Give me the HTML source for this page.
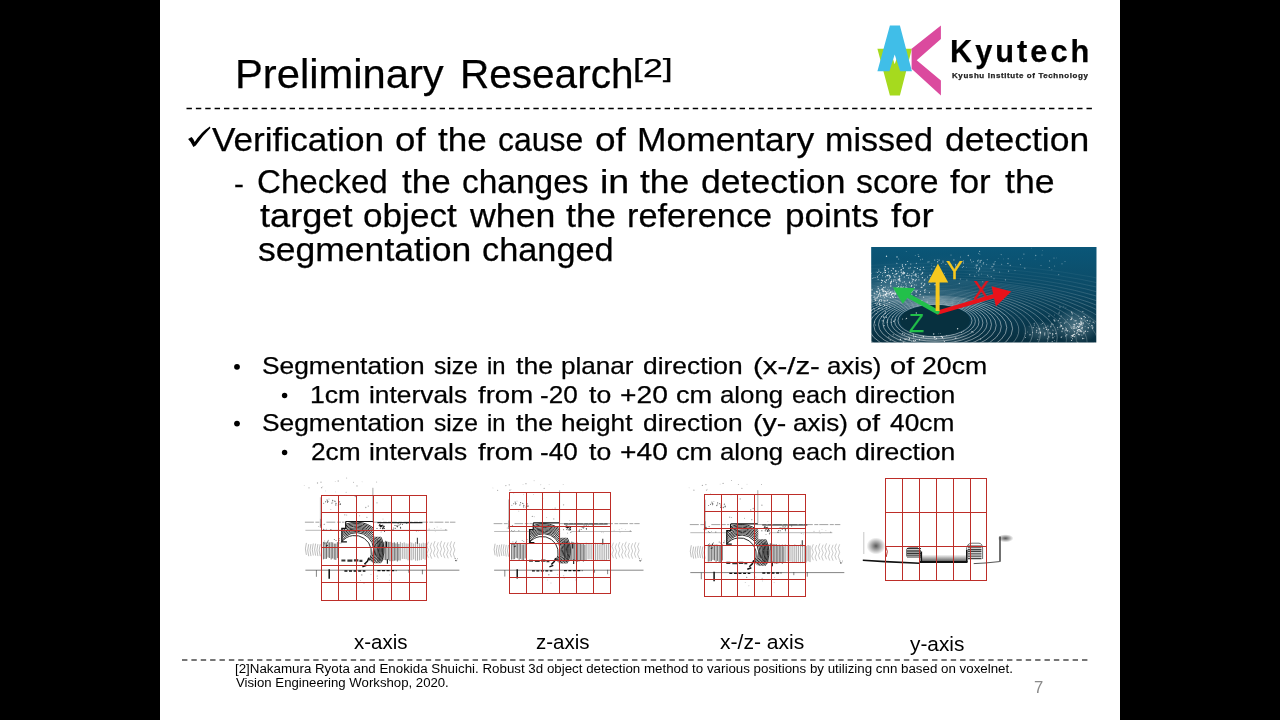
<!DOCTYPE html>
<html><head><meta charset="utf-8"><title>Preliminary Research</title>
<style>
html,body{margin:0;padding:0;background:#000;width:1280px;height:720px;overflow:hidden}
body{font-family:"Liberation Sans",sans-serif;color:#000;position:relative}
#slide{position:absolute;left:160px;top:0;width:960px;height:720px;background:#fff}
.ln{position:absolute;left:0;width:1280px;height:0;line-height:1;color:#000;will-change:transform;-webkit-text-stroke:0.25px currentColor}
.t{position:absolute;top:0;white-space:pre;line-height:1;transform-origin:0 0}
svg{position:absolute;left:0;top:0}
</style></head><body>
<div id="slide"></div>
<svg width="1280" height="720" viewBox="0 0 1280 720">
<line x1="186.5" y1="108.5" x2="1094.3" y2="108.5" stroke="#000" stroke-width="1.4" stroke-dasharray="5.4 3.975"/>
<line x1="182" y1="660" x2="1089.8" y2="660" stroke="#4a4a4a" stroke-width="1.6" stroke-dasharray="5.4 3.975"/>

<!-- lidar picture -->
<defs><linearGradient id="bg1" x1="0" y1="0" x2="0" y2="1"><stop offset="0" stop-color="#0a5678"/><stop offset="0.45" stop-color="#0b4964"/><stop offset="1" stop-color="#082f40"/></linearGradient><radialGradient id="hz"><stop offset="0" stop-color="#d5e6ec" stop-opacity="1"/><stop offset="1" stop-color="#d5e6ec" stop-opacity="0"/></radialGradient><linearGradient id="fade" x1="0" y1="0" x2="0" y2="1"><stop offset="0" stop-color="#0a5678" stop-opacity="0.95"/><stop offset="0.3" stop-color="#0c4f6c" stop-opacity="0.75"/><stop offset="0.6" stop-color="#0c4560" stop-opacity="0"/></linearGradient><clipPath id="cp1"><rect x="871.4" y="247" width="224.9" height="95.5"/></clipPath></defs>
<rect x="871.4" y="247" width="224.9" height="95.5" fill="url(#bg1)"/>
<g clip-path="url(#cp1)" fill="none" stroke="#fff">
<g stroke="none" fill="url(#hz)">
<ellipse cx="901" cy="277" rx="42" ry="18" opacity="0.5"/>
<ellipse cx="886" cy="294" rx="26" ry="12" opacity="0.55"/>
<ellipse cx="952" cy="263" rx="44" ry="9" opacity="0.18"/>
<ellipse cx="985" cy="270" rx="22" ry="11" opacity="0.2"/>
<ellipse cx="1076" cy="326" rx="24" ry="18" opacity="0.35"/>
<ellipse cx="1042" cy="332" rx="20" ry="11" opacity="0.22"/>
<ellipse cx="928" cy="338" rx="45" ry="7" opacity="0.35"/>
</g>
<ellipse cx="935" cy="320.6" rx="37" ry="16.2" stroke-width="0.75" opacity="0.62"/>
<ellipse cx="935" cy="321.3" rx="40.4" ry="17.6" stroke-width="0.75" opacity="0.62"/>
<ellipse cx="935" cy="322" rx="44" ry="19.2" stroke-width="0.75" opacity="0.62"/>
<ellipse cx="935" cy="322.8" rx="47.9" ry="20.8" stroke-width="0.75" opacity="0.62"/>
<ellipse cx="935" cy="323.6" rx="52.1" ry="22.5" stroke-width="0.75" opacity="0.62"/>
<ellipse cx="935" cy="324.5" rx="56.5" ry="24.3" stroke-width="0.75" opacity="0.62"/>
<ellipse cx="935" cy="325.4" rx="61.2" ry="26.2" stroke-width="0.75" opacity="0.62"/>
<ellipse cx="935" cy="326.5" rx="66.3" ry="28.2" stroke-width="0.75" opacity="0.62"/>
<ellipse cx="935" cy="327.6" rx="71.8" ry="30.3" stroke-width="0.75" opacity="0.62"/>
<ellipse cx="935" cy="328.7" rx="77.6" ry="32.5" stroke-width="0.75" opacity="0.62"/>
<ellipse cx="935" cy="330" rx="83.8" ry="34.9" stroke-width="0.6" opacity="0.5"/>
<ellipse cx="935" cy="331.3" rx="90.5" ry="37.4" stroke-width="0.6" opacity="0.5"/>
<ellipse cx="935" cy="332.7" rx="97.6" ry="40" stroke-width="0.6" opacity="0.5"/>
<ellipse cx="935" cy="334.3" rx="105.3" ry="42.8" stroke-width="0.6" opacity="0.5"/>
<ellipse cx="935" cy="335.9" rx="113.4" ry="45.6" stroke-width="0.6" opacity="0.5"/>
<ellipse cx="935" cy="337.6" rx="122.2" ry="48.7" stroke-width="0.6" opacity="0.5"/>
<ellipse cx="935" cy="339.5" rx="131.5" ry="51.8" stroke-width="0.5" opacity="0.42"/>
<ellipse cx="935" cy="341.5" rx="141.5" ry="55.1" stroke-width="0.5" opacity="0.42"/>
<ellipse cx="935" cy="343.7" rx="152.3" ry="58.5" stroke-width="0.5" opacity="0.42"/>
<ellipse cx="935" cy="345.9" rx="163.7" ry="62" stroke-width="0.5" opacity="0.42"/>
<ellipse cx="935" cy="348.4" rx="176" ry="65.6" stroke-width="0.5" opacity="0.42"/>
<ellipse cx="935" cy="351" rx="189.1" ry="69.3" stroke-width="0.5" opacity="0.42"/>
<ellipse cx="935" cy="353.8" rx="203.1" ry="73.1" stroke-width="0.5" opacity="0.42"/>
<ellipse cx="935" cy="356.8" rx="218.1" ry="77" stroke-width="0.5" opacity="0.42"/>
<ellipse cx="935" cy="360" rx="234.2" ry="82" stroke-width="0.5" opacity="0.42"/>
<ellipse cx="935" cy="363.5" rx="251.4" ry="88" stroke-width="0.5" opacity="0.42"/>
<ellipse cx="935" cy="367.2" rx="269.8" ry="94.4" stroke-width="0.5" opacity="0.42"/>
<ellipse cx="935" cy="371.1" rx="289.5" ry="101.3" stroke-width="0.5" opacity="0.42"/>
<ellipse cx="935" cy="375.3" rx="310.6" ry="108.7" stroke-width="0.5" opacity="0.42"/>
<ellipse cx="935" cy="379.8" rx="333.1" ry="116.6" stroke-width="0.5" opacity="0.42"/>
</g>
<rect x="871.4" y="247" width="224.9" height="95.5" fill="url(#fade)"/>
<g clip-path="url(#cp1)"><ellipse cx="935" cy="320.5" rx="35" ry="15.5" fill="#07303f"/>
<g fill="#fff"><circle cx="895.7" cy="279.6" r="0.4" opacity="0.8"/><circle cx="918.9" cy="279.8" r="0.6" opacity="0.8"/><circle cx="867.6" cy="268.4" r="0.5" opacity="0.8"/><circle cx="917.6" cy="277.7" r="0.4" opacity="0.8"/><circle cx="901.3" cy="284.8" r="0.4" opacity="0.8"/><circle cx="904.1" cy="272.8" r="0.5" opacity="0.8"/><circle cx="884.7" cy="269.2" r="0.4" opacity="0.8"/><circle cx="884.9" cy="272.7" r="0.5" opacity="0.8"/><circle cx="932.2" cy="280" r="0.6" opacity="0.8"/><circle cx="881.5" cy="280.2" r="0.6" opacity="0.8"/><circle cx="876.1" cy="272.1" r="0.4" opacity="0.8"/><circle cx="878.9" cy="271.1" r="0.6" opacity="0.8"/><circle cx="922" cy="282.3" r="0.4" opacity="0.8"/><circle cx="885.4" cy="270.4" r="0.7" opacity="0.8"/><circle cx="903.2" cy="268.3" r="0.7" opacity="0.8"/><circle cx="891.7" cy="280" r="0.5" opacity="0.8"/><circle cx="896" cy="271" r="0.6" opacity="0.8"/><circle cx="865.8" cy="273.7" r="0.7" opacity="0.8"/><circle cx="888.8" cy="295" r="0.4" opacity="0.8"/><circle cx="889.8" cy="275.7" r="0.6" opacity="0.8"/><circle cx="911.4" cy="282.6" r="0.4" opacity="0.8"/><circle cx="906.6" cy="275.3" r="0.6" opacity="0.8"/><circle cx="891.5" cy="281.5" r="0.7" opacity="0.8"/><circle cx="883.6" cy="272.3" r="0.4" opacity="0.8"/><circle cx="918.1" cy="273.3" r="0.4" opacity="0.8"/><circle cx="924.5" cy="280" r="0.7" opacity="0.8"/><circle cx="896.4" cy="282.7" r="0.6" opacity="0.8"/><circle cx="918.7" cy="277.1" r="0.5" opacity="0.8"/><circle cx="884.8" cy="270.8" r="0.5" opacity="0.8"/><circle cx="901" cy="272.3" r="0.5" opacity="0.8"/><circle cx="869.6" cy="285.3" r="0.7" opacity="0.8"/><circle cx="916.2" cy="279.7" r="0.6" opacity="0.8"/><circle cx="923.4" cy="267.3" r="0.6" opacity="0.8"/><circle cx="886.5" cy="256.2" r="0.7" opacity="0.8"/><circle cx="909.4" cy="274.9" r="0.5" opacity="0.8"/><circle cx="914.5" cy="284.4" r="0.4" opacity="0.8"/><circle cx="877.4" cy="276.9" r="0.6" opacity="0.8"/><circle cx="898.1" cy="279.8" r="0.6" opacity="0.8"/><circle cx="888.5" cy="272.1" r="0.5" opacity="0.8"/><circle cx="892.5" cy="268.2" r="0.4" opacity="0.8"/><circle cx="866.9" cy="279.8" r="0.7" opacity="0.8"/><circle cx="886.4" cy="280.2" r="0.7" opacity="0.8"/><circle cx="895.9" cy="274.1" r="0.4" opacity="0.8"/><circle cx="918.2" cy="275.3" r="0.4" opacity="0.8"/><circle cx="897" cy="277.9" r="0.4" opacity="0.8"/><circle cx="880.7" cy="272.5" r="0.6" opacity="0.8"/><circle cx="895.1" cy="274.2" r="0.5" opacity="0.8"/><circle cx="892.7" cy="273.4" r="0.6" opacity="0.8"/><circle cx="922.2" cy="273.4" r="0.7" opacity="0.8"/><circle cx="923.7" cy="285.5" r="0.7" opacity="0.8"/><circle cx="885.4" cy="276.7" r="0.5" opacity="0.8"/><circle cx="912.5" cy="279.8" r="0.6" opacity="0.8"/><circle cx="874.1" cy="277.4" r="0.4" opacity="0.8"/><circle cx="911.6" cy="292.6" r="0.6" opacity="0.8"/><circle cx="912.9" cy="283" r="0.4" opacity="0.8"/><circle cx="900.7" cy="270.1" r="0.4" opacity="0.8"/><circle cx="895.6" cy="270.9" r="0.6" opacity="0.8"/><circle cx="913.4" cy="272.4" r="0.5" opacity="0.8"/><circle cx="871.1" cy="273.5" r="0.6" opacity="0.8"/><circle cx="884.7" cy="268.7" r="0.5" opacity="0.8"/><circle cx="910.8" cy="263.9" r="0.5" opacity="0.8"/><circle cx="906.1" cy="283.8" r="0.4" opacity="0.8"/><circle cx="930" cy="275.2" r="0.7" opacity="0.8"/><circle cx="898.5" cy="286.7" r="0.6" opacity="0.8"/><circle cx="862.2" cy="281.4" r="0.6" opacity="0.8"/><circle cx="915.5" cy="274.1" r="0.5" opacity="0.8"/><circle cx="915.3" cy="280.7" r="0.6" opacity="0.8"/><circle cx="906.7" cy="285.4" r="0.4" opacity="0.8"/><circle cx="875.5" cy="277.3" r="0.4" opacity="0.8"/><circle cx="904.4" cy="273" r="0.7" opacity="0.8"/><circle cx="905.7" cy="264.6" r="0.7" opacity="0.8"/><circle cx="913.9" cy="271.2" r="0.6" opacity="0.8"/><circle cx="935.1" cy="284.8" r="0.7" opacity="0.8"/><circle cx="872.7" cy="278.6" r="0.4" opacity="0.8"/><circle cx="898.4" cy="271.8" r="0.5" opacity="0.8"/><circle cx="922.4" cy="277.6" r="0.7" opacity="0.8"/><circle cx="903.3" cy="272.3" r="0.7" opacity="0.8"/><circle cx="891.3" cy="270.6" r="0.5" opacity="0.8"/><circle cx="930.2" cy="277.7" r="0.4" opacity="0.8"/><circle cx="861" cy="273.3" r="0.7" opacity="0.8"/><circle cx="911.2" cy="275.6" r="0.5" opacity="0.8"/><circle cx="911.6" cy="276.8" r="0.5" opacity="0.8"/><circle cx="901.3" cy="269.8" r="0.7" opacity="0.8"/><circle cx="903" cy="273.9" r="0.6" opacity="0.8"/><circle cx="920.1" cy="269.8" r="0.7" opacity="0.8"/><circle cx="916.3" cy="263.3" r="0.5" opacity="0.8"/><circle cx="879.7" cy="274.3" r="0.4" opacity="0.8"/><circle cx="920.5" cy="267.3" r="0.4" opacity="0.8"/><circle cx="901.6" cy="272.1" r="0.5" opacity="0.8"/><circle cx="873.1" cy="277.9" r="0.4" opacity="0.8"/><circle cx="890.6" cy="283.5" r="0.7" opacity="0.8"/><circle cx="901.7" cy="272.8" r="0.4" opacity="0.8"/><circle cx="900.1" cy="281.6" r="0.4" opacity="0.8"/><circle cx="878.2" cy="275.6" r="0.4" opacity="0.8"/><circle cx="878.1" cy="279.4" r="0.5" opacity="0.8"/><circle cx="893.4" cy="268.8" r="0.7" opacity="0.8"/><circle cx="887.2" cy="275.7" r="0.6" opacity="0.8"/><circle cx="931.8" cy="269.1" r="0.5" opacity="0.8"/><circle cx="904.9" cy="272.8" r="0.4" opacity="0.8"/><circle cx="888.4" cy="279.8" r="0.5" opacity="0.8"/><circle cx="889.4" cy="278.1" r="0.6" opacity="0.8"/><circle cx="907.7" cy="261.4" r="0.5" opacity="0.8"/><circle cx="922.7" cy="272.3" r="0.6" opacity="0.8"/><circle cx="921.9" cy="287.3" r="0.7" opacity="0.8"/><circle cx="908" cy="293" r="0.7" opacity="0.8"/><circle cx="907.6" cy="273.2" r="0.5" opacity="0.8"/><circle cx="909.5" cy="282.3" r="0.7" opacity="0.8"/><circle cx="894" cy="279.9" r="0.6" opacity="0.8"/><circle cx="913.6" cy="279.7" r="0.6" opacity="0.8"/><circle cx="882.7" cy="273.5" r="0.4" opacity="0.8"/><circle cx="884.7" cy="281.6" r="0.6" opacity="0.8"/><circle cx="893.8" cy="275.8" r="0.5" opacity="0.8"/><circle cx="907.9" cy="275.4" r="0.6" opacity="0.8"/><circle cx="894.9" cy="291.1" r="0.5" opacity="0.8"/><circle cx="898.9" cy="279.7" r="0.7" opacity="0.8"/><circle cx="914.9" cy="267.5" r="0.6" opacity="0.8"/><circle cx="882.5" cy="280.8" r="0.7" opacity="0.8"/><circle cx="897.7" cy="273.1" r="0.4" opacity="0.8"/><circle cx="903.3" cy="271.8" r="0.4" opacity="0.8"/><circle cx="899.6" cy="277.3" r="0.4" opacity="0.8"/><circle cx="902.3" cy="273.2" r="0.5" opacity="0.8"/><circle cx="931" cy="281.7" r="0.7" opacity="0.8"/><circle cx="954.5" cy="277.6" r="0.7" opacity="0.8"/><circle cx="912" cy="273.5" r="0.5" opacity="0.8"/><circle cx="925.8" cy="279" r="0.4" opacity="0.8"/><circle cx="913" cy="275" r="0.5" opacity="0.8"/><circle cx="904.4" cy="281.8" r="0.6" opacity="0.8"/><circle cx="888.7" cy="275.1" r="0.7" opacity="0.8"/><circle cx="889.4" cy="276" r="0.6" opacity="0.8"/><circle cx="918.1" cy="254.7" r="0.4" opacity="0.8"/><circle cx="927.5" cy="277.1" r="0.5" opacity="0.8"/><circle cx="887.3" cy="275.5" r="0.7" opacity="0.8"/><circle cx="924.7" cy="284" r="0.7" opacity="0.8"/><circle cx="888.2" cy="268.7" r="0.7" opacity="0.8"/><circle cx="914.3" cy="274.9" r="0.5" opacity="0.8"/><circle cx="915.5" cy="275.3" r="0.5" opacity="0.8"/><circle cx="887" cy="279.6" r="0.4" opacity="0.8"/><circle cx="901.5" cy="275" r="0.6" opacity="0.8"/><circle cx="894.8" cy="277" r="0.7" opacity="0.8"/><circle cx="917.4" cy="268.4" r="0.6" opacity="0.8"/><circle cx="878.8" cy="269.7" r="0.4" opacity="0.8"/><circle cx="890.4" cy="277" r="0.7" opacity="0.8"/><circle cx="916.2" cy="276.2" r="0.6" opacity="0.8"/><circle cx="921.1" cy="274.5" r="0.5" opacity="0.8"/><circle cx="934.4" cy="279.1" r="0.5" opacity="0.8"/><circle cx="899.5" cy="276.3" r="0.7" opacity="0.8"/><circle cx="911.9" cy="278.8" r="0.5" opacity="0.8"/><circle cx="900.3" cy="288.1" r="0.4" opacity="0.8"/><circle cx="899.3" cy="279" r="0.7" opacity="0.8"/><circle cx="885.5" cy="272.4" r="0.6" opacity="0.8"/><circle cx="895.9" cy="280.8" r="0.5" opacity="0.8"/><circle cx="885.2" cy="266.7" r="0.7" opacity="0.8"/><circle cx="902.4" cy="264.9" r="0.7" opacity="0.8"/><circle cx="916.1" cy="285.1" r="0.5" opacity="0.8"/><circle cx="931.1" cy="279.6" r="0.7" opacity="0.8"/><circle cx="896.9" cy="263.3" r="0.5" opacity="0.8"/><circle cx="924" cy="269.7" r="0.4" opacity="0.8"/><circle cx="910.4" cy="267.8" r="0.5" opacity="0.8"/><circle cx="904.3" cy="277" r="0.6" opacity="0.8"/><circle cx="916" cy="274.3" r="0.7" opacity="0.8"/><circle cx="877.7" cy="272.5" r="0.5" opacity="0.8"/><circle cx="898.6" cy="276" r="0.4" opacity="0.8"/><circle cx="899.8" cy="267.7" r="0.4" opacity="0.8"/><circle cx="896.6" cy="273.8" r="0.7" opacity="0.8"/><circle cx="899.9" cy="278.8" r="0.6" opacity="0.8"/><circle cx="902.7" cy="287.7" r="0.5" opacity="0.8"/><circle cx="897" cy="256.9" r="0.7" opacity="0.8"/><circle cx="903.8" cy="273.7" r="0.6" opacity="0.8"/><circle cx="902.5" cy="266.4" r="0.5" opacity="0.8"/><circle cx="908.5" cy="277.8" r="0.6" opacity="0.8"/><circle cx="878" cy="286.7" r="0.5" opacity="0.85"/><circle cx="889.2" cy="293.1" r="0.6" opacity="0.85"/><circle cx="890.1" cy="292.6" r="0.5" opacity="0.85"/><circle cx="882.6" cy="289.3" r="0.6" opacity="0.85"/><circle cx="876.2" cy="294.2" r="0.4" opacity="0.85"/><circle cx="897.3" cy="292.7" r="0.6" opacity="0.85"/><circle cx="906.9" cy="291.4" r="0.4" opacity="0.85"/><circle cx="885.1" cy="294.9" r="0.7" opacity="0.85"/><circle cx="894.9" cy="292.8" r="0.5" opacity="0.85"/><circle cx="889.5" cy="294" r="0.6" opacity="0.85"/><circle cx="890.6" cy="292.2" r="0.6" opacity="0.85"/><circle cx="896.6" cy="287.9" r="0.5" opacity="0.85"/><circle cx="867.6" cy="293.1" r="0.7" opacity="0.85"/><circle cx="886.8" cy="293.1" r="0.7" opacity="0.85"/><circle cx="882.2" cy="288.4" r="0.5" opacity="0.85"/><circle cx="878.4" cy="295.4" r="0.4" opacity="0.85"/><circle cx="886.3" cy="292.8" r="0.6" opacity="0.85"/><circle cx="888.4" cy="290.9" r="0.5" opacity="0.85"/><circle cx="881.5" cy="282.5" r="0.6" opacity="0.85"/><circle cx="885.9" cy="294.8" r="0.7" opacity="0.85"/><circle cx="898" cy="292.9" r="0.6" opacity="0.85"/><circle cx="899.5" cy="289.2" r="0.4" opacity="0.85"/><circle cx="885.4" cy="294.6" r="0.6" opacity="0.85"/><circle cx="882.6" cy="290.9" r="0.6" opacity="0.85"/><circle cx="878.8" cy="294.7" r="0.6" opacity="0.85"/><circle cx="888.1" cy="287.8" r="0.4" opacity="0.85"/><circle cx="890.8" cy="286.5" r="0.5" opacity="0.85"/><circle cx="885.5" cy="291.4" r="0.7" opacity="0.85"/><circle cx="871.7" cy="295.5" r="0.6" opacity="0.85"/><circle cx="866.2" cy="294" r="0.5" opacity="0.85"/><circle cx="890.4" cy="297.5" r="0.6" opacity="0.85"/><circle cx="881.6" cy="300.8" r="0.6" opacity="0.85"/><circle cx="880.5" cy="295.1" r="0.7" opacity="0.85"/><circle cx="877.6" cy="291.2" r="0.5" opacity="0.85"/><circle cx="883.8" cy="291.5" r="0.7" opacity="0.85"/><circle cx="876.6" cy="291.3" r="0.6" opacity="0.85"/><circle cx="895.8" cy="292.9" r="0.5" opacity="0.85"/><circle cx="879.6" cy="291.9" r="0.5" opacity="0.85"/><circle cx="883.9" cy="294.8" r="0.5" opacity="0.85"/><circle cx="874.9" cy="299.7" r="0.5" opacity="0.85"/><circle cx="897.4" cy="287.6" r="0.7" opacity="0.85"/><circle cx="875" cy="298.6" r="0.5" opacity="0.85"/><circle cx="880.2" cy="296.2" r="0.4" opacity="0.85"/><circle cx="874.2" cy="293.1" r="0.6" opacity="0.85"/><circle cx="893.5" cy="297.2" r="0.5" opacity="0.85"/><circle cx="902" cy="298.9" r="0.7" opacity="0.85"/><circle cx="878.1" cy="296.2" r="0.6" opacity="0.85"/><circle cx="896.6" cy="284.7" r="0.4" opacity="0.85"/><circle cx="892.6" cy="296.8" r="0.7" opacity="0.85"/><circle cx="896.2" cy="291.9" r="0.4" opacity="0.85"/><circle cx="870" cy="300.2" r="0.7" opacity="0.85"/><circle cx="892.7" cy="292.3" r="0.4" opacity="0.85"/><circle cx="886.8" cy="295.8" r="0.4" opacity="0.85"/><circle cx="899.4" cy="290.1" r="0.7" opacity="0.85"/><circle cx="899.4" cy="297.4" r="0.4" opacity="0.85"/><circle cx="887.3" cy="289.4" r="0.4" opacity="0.85"/><circle cx="881.3" cy="289.6" r="0.5" opacity="0.85"/><circle cx="878.3" cy="288.6" r="0.7" opacity="0.85"/><circle cx="884.6" cy="290.7" r="0.4" opacity="0.85"/><circle cx="879.3" cy="304.4" r="0.5" opacity="0.85"/><circle cx="881.1" cy="295.3" r="0.4" opacity="0.85"/><circle cx="893.6" cy="293.3" r="0.7" opacity="0.85"/><circle cx="884.6" cy="297.3" r="0.5" opacity="0.85"/><circle cx="879.5" cy="293.6" r="0.5" opacity="0.85"/><circle cx="895.1" cy="293.9" r="0.6" opacity="0.85"/><circle cx="891.6" cy="294.1" r="0.7" opacity="0.85"/><circle cx="891.6" cy="294.8" r="0.7" opacity="0.85"/><circle cx="891.8" cy="291.4" r="0.4" opacity="0.85"/><circle cx="881.2" cy="285.5" r="0.6" opacity="0.85"/><circle cx="883.5" cy="290" r="0.6" opacity="0.85"/><circle cx="885.3" cy="287.1" r="0.5" opacity="0.85"/><circle cx="880" cy="293.1" r="0.5" opacity="0.85"/><circle cx="886.8" cy="296.5" r="0.6" opacity="0.85"/><circle cx="895.7" cy="297.4" r="0.5" opacity="0.85"/><circle cx="894.3" cy="289.5" r="0.4" opacity="0.85"/><circle cx="890.8" cy="292.1" r="0.7" opacity="0.85"/><circle cx="887.9" cy="293.4" r="0.5" opacity="0.85"/><circle cx="873.8" cy="297" r="0.5" opacity="0.85"/><circle cx="870.9" cy="299.6" r="0.6" opacity="0.85"/><circle cx="882.6" cy="275.8" r="0.5" opacity="0.85"/><circle cx="883.2" cy="295.8" r="0.7" opacity="0.85"/><circle cx="899" cy="294.5" r="0.7" opacity="0.85"/><circle cx="899.9" cy="280.7" r="0.7" opacity="0.85"/><circle cx="886.3" cy="293.3" r="0.6" opacity="0.85"/><circle cx="894.2" cy="295.5" r="0.4" opacity="0.85"/><circle cx="871.9" cy="289.8" r="0.7" opacity="0.85"/><circle cx="875.6" cy="300.3" r="0.7" opacity="0.85"/><circle cx="898" cy="297.1" r="0.5" opacity="0.85"/><circle cx="871.9" cy="301" r="0.5" opacity="0.85"/><circle cx="879.5" cy="300.3" r="0.7" opacity="0.85"/><circle cx="895.1" cy="294" r="0.7" opacity="0.85"/><circle cx="888.3" cy="293.3" r="0.4" opacity="0.85"/><circle cx="887.1" cy="291.3" r="0.5" opacity="0.85"/><circle cx="885.7" cy="282.3" r="0.6" opacity="0.85"/><circle cx="880.7" cy="296.4" r="0.4" opacity="0.85"/><circle cx="884.9" cy="300.9" r="0.6" opacity="0.85"/><circle cx="892.7" cy="291.1" r="0.4" opacity="0.85"/><circle cx="892.5" cy="293.6" r="0.7" opacity="0.85"/><circle cx="883.8" cy="287.5" r="0.7" opacity="0.85"/><circle cx="890.9" cy="282.3" r="0.7" opacity="0.85"/><circle cx="893.1" cy="297.3" r="0.4" opacity="0.85"/><circle cx="890.8" cy="285.3" r="0.5" opacity="0.85"/><circle cx="879.7" cy="290.2" r="0.6" opacity="0.85"/><circle cx="870.7" cy="295.1" r="0.4" opacity="0.85"/><circle cx="877.1" cy="292.6" r="0.5" opacity="0.85"/><circle cx="886.1" cy="294.8" r="0.4" opacity="0.85"/><circle cx="874.8" cy="293.7" r="0.5" opacity="0.85"/><circle cx="904.5" cy="291.7" r="0.4" opacity="0.85"/><circle cx="885.6" cy="295.1" r="0.4" opacity="0.85"/><circle cx="862.4" cy="300.1" r="0.7" opacity="0.85"/><circle cx="956.2" cy="266.4" r="0.7" opacity="0.55"/><circle cx="922.8" cy="258.9" r="0.4" opacity="0.55"/><circle cx="953.9" cy="259.9" r="0.6" opacity="0.55"/><circle cx="927.9" cy="262" r="0.6" opacity="0.55"/><circle cx="955.9" cy="267.6" r="0.5" opacity="0.55"/><circle cx="951.8" cy="268" r="0.5" opacity="0.55"/><circle cx="938.4" cy="268.5" r="0.5" opacity="0.55"/><circle cx="931.9" cy="263.8" r="0.4" opacity="0.55"/><circle cx="906.2" cy="251.4" r="0.4" opacity="0.55"/><circle cx="1001.7" cy="264.3" r="0.5" opacity="0.55"/><circle cx="979.9" cy="254.7" r="0.4" opacity="0.55"/><circle cx="963" cy="261.5" r="0.4" opacity="0.55"/><circle cx="974.9" cy="276.5" r="0.5" opacity="0.55"/><circle cx="971.8" cy="262" r="0.5" opacity="0.55"/><circle cx="931.6" cy="265.2" r="0.4" opacity="0.55"/><circle cx="976.5" cy="268.2" r="0.6" opacity="0.55"/><circle cx="954.8" cy="268.7" r="0.5" opacity="0.55"/><circle cx="1051.9" cy="269.8" r="0.4" opacity="0.55"/><circle cx="920.6" cy="259.8" r="0.5" opacity="0.55"/><circle cx="968.3" cy="255.5" r="0.7" opacity="0.55"/><circle cx="943" cy="261.1" r="0.6" opacity="0.55"/><circle cx="955.6" cy="264.6" r="0.7" opacity="0.55"/><circle cx="941.4" cy="263.5" r="0.4" opacity="0.55"/><circle cx="960.5" cy="256.9" r="0.5" opacity="0.55"/><circle cx="943" cy="262.3" r="0.5" opacity="0.55"/><circle cx="934.1" cy="266.4" r="0.6" opacity="0.55"/><circle cx="937.2" cy="259.5" r="0.4" opacity="0.55"/><circle cx="937.7" cy="270" r="0.6" opacity="0.55"/><circle cx="945.9" cy="264.5" r="0.6" opacity="0.55"/><circle cx="934.7" cy="260.1" r="0.7" opacity="0.55"/><circle cx="950.8" cy="264.5" r="0.5" opacity="0.55"/><circle cx="908.9" cy="268.3" r="0.7" opacity="0.55"/><circle cx="929" cy="261.8" r="0.5" opacity="0.55"/><circle cx="955.6" cy="265.2" r="0.5" opacity="0.55"/><circle cx="915.2" cy="255.5" r="0.4" opacity="0.55"/><circle cx="898.7" cy="258.9" r="0.5" opacity="0.55"/><circle cx="962.4" cy="267.2" r="0.5" opacity="0.55"/><circle cx="960.7" cy="262.9" r="0.7" opacity="0.55"/><circle cx="951" cy="255.1" r="0.5" opacity="0.55"/><circle cx="934.8" cy="273" r="0.4" opacity="0.55"/><circle cx="978.4" cy="263.1" r="0.4" opacity="0.55"/><circle cx="922.3" cy="259.5" r="0.4" opacity="0.55"/><circle cx="978.7" cy="260.1" r="0.5" opacity="0.55"/><circle cx="918.7" cy="256.4" r="0.7" opacity="0.55"/><circle cx="937.6" cy="261.8" r="0.7" opacity="0.55"/><circle cx="957.2" cy="267.2" r="0.7" opacity="0.55"/><circle cx="963.5" cy="262.9" r="0.6" opacity="0.55"/><circle cx="963.5" cy="266.6" r="0.5" opacity="0.55"/><circle cx="981.1" cy="265.6" r="0.4" opacity="0.55"/><circle cx="939.1" cy="260.1" r="0.7" opacity="0.55"/><circle cx="901.8" cy="287" r="0.6" opacity="0.7"/><circle cx="906.9" cy="287.2" r="0.5" opacity="0.7"/><circle cx="898.9" cy="292.6" r="0.7" opacity="0.7"/><circle cx="905.7" cy="289.9" r="0.4" opacity="0.7"/><circle cx="903.5" cy="286.8" r="0.5" opacity="0.7"/><circle cx="898.9" cy="291.8" r="0.7" opacity="0.7"/><circle cx="921.4" cy="283.8" r="0.7" opacity="0.7"/><circle cx="916.1" cy="291.3" r="0.7" opacity="0.7"/><circle cx="900.1" cy="295.4" r="0.4" opacity="0.7"/><circle cx="917.1" cy="290.5" r="0.6" opacity="0.7"/><circle cx="914.1" cy="285.3" r="0.4" opacity="0.7"/><circle cx="912.3" cy="281.5" r="0.5" opacity="0.7"/><circle cx="915.7" cy="290.2" r="0.4" opacity="0.7"/><circle cx="921.8" cy="300.6" r="0.7" opacity="0.7"/><circle cx="907.7" cy="297.1" r="0.5" opacity="0.7"/><circle cx="905.8" cy="284.1" r="0.5" opacity="0.7"/><circle cx="920.5" cy="291.5" r="0.6" opacity="0.7"/><circle cx="923.6" cy="297.2" r="0.6" opacity="0.7"/><circle cx="921.1" cy="287.5" r="0.6" opacity="0.7"/><circle cx="889.5" cy="289.9" r="0.5" opacity="0.7"/><circle cx="900.4" cy="287" r="0.5" opacity="0.7"/><circle cx="910.8" cy="291" r="0.5" opacity="0.7"/><circle cx="900.3" cy="293.2" r="0.6" opacity="0.7"/><circle cx="902.9" cy="282.3" r="0.5" opacity="0.7"/><circle cx="914" cy="287" r="0.4" opacity="0.7"/><circle cx="905.8" cy="287.1" r="0.7" opacity="0.7"/><circle cx="899.6" cy="288.2" r="0.4" opacity="0.7"/><circle cx="911.8" cy="295" r="0.7" opacity="0.7"/><circle cx="911.3" cy="286.2" r="0.7" opacity="0.7"/><circle cx="925.1" cy="289.7" r="0.6" opacity="0.7"/><circle cx="910" cy="291.4" r="0.5" opacity="0.7"/><circle cx="919.3" cy="295.9" r="0.4" opacity="0.7"/><circle cx="908.5" cy="294.6" r="0.6" opacity="0.7"/><circle cx="893.6" cy="281.2" r="0.6" opacity="0.7"/><circle cx="910.2" cy="283.4" r="0.5" opacity="0.7"/><circle cx="920.2" cy="294.5" r="0.7" opacity="0.7"/><circle cx="903.7" cy="291.9" r="0.4" opacity="0.7"/><circle cx="916.8" cy="292.1" r="0.4" opacity="0.7"/><circle cx="912.7" cy="290" r="0.6" opacity="0.7"/><circle cx="908" cy="294.6" r="0.5" opacity="0.7"/><circle cx="904.8" cy="291.8" r="0.5" opacity="0.7"/><circle cx="916" cy="295.4" r="0.7" opacity="0.7"/><circle cx="912.9" cy="290.6" r="0.5" opacity="0.7"/><circle cx="909.1" cy="285.8" r="0.4" opacity="0.7"/><circle cx="898.9" cy="283.8" r="0.6" opacity="0.7"/><circle cx="905.6" cy="291.8" r="0.4" opacity="0.7"/><circle cx="929.4" cy="292.6" r="0.6" opacity="0.7"/><circle cx="901.1" cy="287.1" r="0.7" opacity="0.7"/><circle cx="912.2" cy="298.6" r="0.4" opacity="0.7"/><circle cx="914.1" cy="290.3" r="0.5" opacity="0.7"/><circle cx="912.3" cy="291.4" r="0.4" opacity="0.7"/><circle cx="924.6" cy="290.4" r="0.5" opacity="0.7"/><circle cx="916.2" cy="292.1" r="0.7" opacity="0.7"/><circle cx="914.4" cy="287.7" r="0.6" opacity="0.7"/><circle cx="924.9" cy="292.2" r="0.7" opacity="0.7"/><circle cx="911.8" cy="289.6" r="0.7" opacity="0.7"/><circle cx="911.7" cy="285.5" r="0.7" opacity="0.7"/><circle cx="927.2" cy="302" r="0.6" opacity="0.7"/><circle cx="912.3" cy="291.1" r="0.6" opacity="0.7"/><circle cx="929.7" cy="284.3" r="0.6" opacity="0.7"/><circle cx="878.9" cy="301.9" r="0.7" opacity="0.7"/><circle cx="874.7" cy="296.8" r="0.6" opacity="0.7"/><circle cx="876.1" cy="313.8" r="0.5" opacity="0.7"/><circle cx="886.1" cy="307.4" r="0.5" opacity="0.7"/><circle cx="879.7" cy="307.9" r="0.5" opacity="0.7"/><circle cx="889.3" cy="302.7" r="0.6" opacity="0.7"/><circle cx="882.1" cy="308.7" r="0.5" opacity="0.7"/><circle cx="871.5" cy="310.4" r="0.7" opacity="0.7"/><circle cx="872.7" cy="305.9" r="0.4" opacity="0.7"/><circle cx="884" cy="301.7" r="0.5" opacity="0.7"/><circle cx="875.3" cy="303.5" r="0.5" opacity="0.7"/><circle cx="873.8" cy="308.3" r="0.5" opacity="0.7"/><circle cx="880.9" cy="305.7" r="0.4" opacity="0.7"/><circle cx="877.4" cy="303.4" r="0.5" opacity="0.7"/><circle cx="879.5" cy="304" r="0.5" opacity="0.7"/><circle cx="877" cy="299.7" r="0.4" opacity="0.7"/><circle cx="879.8" cy="303.5" r="0.6" opacity="0.7"/><circle cx="884.7" cy="314.4" r="0.4" opacity="0.7"/><circle cx="887.3" cy="300.4" r="0.7" opacity="0.7"/><circle cx="883.2" cy="306.7" r="0.4" opacity="0.7"/><circle cx="894.3" cy="307.1" r="0.4" opacity="0.7"/><circle cx="883.9" cy="300" r="0.6" opacity="0.7"/><circle cx="876.8" cy="305.3" r="0.5" opacity="0.7"/><circle cx="878.5" cy="308.5" r="0.6" opacity="0.7"/><circle cx="884.6" cy="305.4" r="0.6" opacity="0.7"/><circle cx="889.7" cy="307" r="0.6" opacity="0.7"/><circle cx="881" cy="299.6" r="0.7" opacity="0.7"/><circle cx="885" cy="300.5" r="0.4" opacity="0.7"/><circle cx="880.4" cy="304" r="0.4" opacity="0.7"/><circle cx="874.6" cy="310.1" r="0.5" opacity="0.7"/><circle cx="877.5" cy="297.7" r="0.6" opacity="0.7"/><circle cx="880.1" cy="305.2" r="0.5" opacity="0.7"/><circle cx="877.6" cy="311.5" r="0.4" opacity="0.7"/><circle cx="887" cy="305.1" r="0.7" opacity="0.7"/><circle cx="876.2" cy="298" r="0.7" opacity="0.7"/><circle cx="867.4" cy="299.5" r="0.6" opacity="0.7"/><circle cx="876.9" cy="303.9" r="0.5" opacity="0.7"/><circle cx="884" cy="303.9" r="0.5" opacity="0.7"/><circle cx="886.6" cy="308.6" r="0.4" opacity="0.7"/><circle cx="861.6" cy="305.7" r="0.4" opacity="0.7"/><circle cx="977.2" cy="265.3" r="0.7" opacity="0.55"/><circle cx="1007.8" cy="263.6" r="0.4" opacity="0.55"/><circle cx="969.7" cy="274.7" r="0.6" opacity="0.55"/><circle cx="987.6" cy="275.3" r="0.5" opacity="0.55"/><circle cx="966.9" cy="280" r="0.5" opacity="0.55"/><circle cx="990.9" cy="268.7" r="0.4" opacity="0.55"/><circle cx="978.8" cy="275.1" r="0.5" opacity="0.55"/><circle cx="993.9" cy="264.4" r="0.6" opacity="0.55"/><circle cx="991.2" cy="276.6" r="0.6" opacity="0.55"/><circle cx="979.5" cy="268.3" r="0.7" opacity="0.55"/><circle cx="973.4" cy="261.6" r="0.5" opacity="0.55"/><circle cx="982.8" cy="281.7" r="0.5" opacity="0.55"/><circle cx="979.6" cy="251.3" r="0.6" opacity="0.55"/><circle cx="976.1" cy="266.1" r="0.5" opacity="0.55"/><circle cx="981.3" cy="274" r="0.4" opacity="0.55"/><circle cx="994" cy="278.8" r="0.5" opacity="0.55"/><circle cx="959.3" cy="283.4" r="0.6" opacity="0.55"/><circle cx="983.7" cy="262.6" r="0.5" opacity="0.55"/><circle cx="1005.4" cy="279.8" r="0.6" opacity="0.55"/><circle cx="988.2" cy="276.7" r="0.4" opacity="0.55"/><circle cx="1008.5" cy="271.1" r="0.7" opacity="0.55"/><circle cx="980.1" cy="262.3" r="0.6" opacity="0.55"/><circle cx="978.5" cy="270.9" r="0.7" opacity="0.55"/><circle cx="993.9" cy="270.2" r="0.7" opacity="0.55"/><circle cx="980.2" cy="261.1" r="0.7" opacity="0.55"/><circle cx="995.1" cy="261.4" r="0.5" opacity="0.55"/><circle cx="977.6" cy="260.9" r="0.7" opacity="0.55"/><circle cx="976.5" cy="272.2" r="0.4" opacity="0.55"/><circle cx="992.1" cy="266.8" r="0.7" opacity="0.55"/><circle cx="981.1" cy="260.4" r="0.6" opacity="0.55"/><circle cx="993.1" cy="263.5" r="0.4" opacity="0.55"/><circle cx="976.1" cy="265" r="0.5" opacity="0.55"/><circle cx="993.4" cy="266.2" r="0.4" opacity="0.55"/><circle cx="974.3" cy="275.2" r="0.4" opacity="0.55"/><circle cx="999.6" cy="272.1" r="0.5" opacity="0.55"/><circle cx="978.8" cy="253.2" r="0.5" opacity="0.55"/><circle cx="979.5" cy="269.6" r="0.7" opacity="0.55"/><circle cx="966.6" cy="267.2" r="0.4" opacity="0.55"/><circle cx="970.5" cy="259.9" r="0.6" opacity="0.55"/><circle cx="960.3" cy="279.1" r="0.5" opacity="0.55"/><circle cx="1085.1" cy="326.7" r="0.4" opacity="0.8"/><circle cx="1078.6" cy="316.1" r="0.4" opacity="0.8"/><circle cx="1079.9" cy="334.8" r="0.4" opacity="0.8"/><circle cx="1088.3" cy="327.7" r="0.7" opacity="0.8"/><circle cx="1071.7" cy="318.3" r="0.6" opacity="0.8"/><circle cx="1085.3" cy="331.3" r="0.7" opacity="0.8"/><circle cx="1089.1" cy="323.4" r="0.5" opacity="0.8"/><circle cx="1100.4" cy="326.3" r="0.7" opacity="0.8"/><circle cx="1081" cy="331.1" r="0.4" opacity="0.8"/><circle cx="1084.1" cy="316.4" r="0.7" opacity="0.8"/><circle cx="1072" cy="317" r="0.5" opacity="0.8"/><circle cx="1073.1" cy="336.1" r="0.7" opacity="0.8"/><circle cx="1073.5" cy="328.3" r="0.5" opacity="0.8"/><circle cx="1081.7" cy="318.2" r="0.5" opacity="0.8"/><circle cx="1079.2" cy="334.7" r="0.6" opacity="0.8"/><circle cx="1092" cy="325.7" r="0.7" opacity="0.8"/><circle cx="1092.8" cy="327.2" r="0.6" opacity="0.8"/><circle cx="1072.7" cy="336.1" r="0.6" opacity="0.8"/><circle cx="1071.6" cy="328.1" r="0.4" opacity="0.8"/><circle cx="1075.9" cy="320.6" r="0.6" opacity="0.8"/><circle cx="1081.7" cy="324.8" r="0.6" opacity="0.8"/><circle cx="1080.9" cy="322.7" r="0.6" opacity="0.8"/><circle cx="1079.1" cy="326" r="0.4" opacity="0.8"/><circle cx="1080.8" cy="330" r="0.6" opacity="0.8"/><circle cx="1080" cy="330.7" r="0.5" opacity="0.8"/><circle cx="1083.1" cy="322.9" r="0.7" opacity="0.8"/><circle cx="1077.4" cy="330.8" r="0.7" opacity="0.8"/><circle cx="1081.3" cy="322.3" r="0.4" opacity="0.8"/><circle cx="1071.7" cy="312.2" r="0.6" opacity="0.8"/><circle cx="1084" cy="338.6" r="0.4" opacity="0.8"/><circle cx="1079.6" cy="318.4" r="0.4" opacity="0.8"/><circle cx="1074.1" cy="324.9" r="0.5" opacity="0.8"/><circle cx="1084.2" cy="319" r="0.4" opacity="0.8"/><circle cx="1062.7" cy="328.7" r="0.7" opacity="0.8"/><circle cx="1080.1" cy="331.8" r="0.4" opacity="0.8"/><circle cx="1083.8" cy="332.9" r="0.7" opacity="0.8"/><circle cx="1072.2" cy="313.8" r="0.6" opacity="0.8"/><circle cx="1048.2" cy="343" r="0.4" opacity="0.8"/><circle cx="1083.2" cy="333.9" r="0.4" opacity="0.8"/><circle cx="1082.4" cy="327.3" r="0.6" opacity="0.8"/><circle cx="1081.3" cy="323.7" r="0.7" opacity="0.8"/><circle cx="1063" cy="328.6" r="0.4" opacity="0.8"/><circle cx="1081.9" cy="335.1" r="0.5" opacity="0.8"/><circle cx="1071.6" cy="340.5" r="0.6" opacity="0.8"/><circle cx="1072.5" cy="338.7" r="0.5" opacity="0.8"/><circle cx="1078.4" cy="334.2" r="0.6" opacity="0.8"/><circle cx="1065.9" cy="322" r="0.6" opacity="0.8"/><circle cx="1074.3" cy="334.4" r="0.6" opacity="0.8"/><circle cx="1073.6" cy="326.8" r="0.6" opacity="0.8"/><circle cx="1091.5" cy="325.2" r="0.4" opacity="0.8"/><circle cx="1076.6" cy="333.1" r="0.6" opacity="0.8"/><circle cx="1094.9" cy="342.4" r="0.4" opacity="0.8"/><circle cx="1080.5" cy="324.8" r="0.7" opacity="0.8"/><circle cx="1077.5" cy="326.3" r="0.6" opacity="0.8"/><circle cx="1081.9" cy="328.6" r="0.7" opacity="0.8"/><circle cx="1070.9" cy="319.6" r="0.7" opacity="0.8"/><circle cx="1071.7" cy="319.5" r="0.4" opacity="0.8"/><circle cx="1082.8" cy="338.5" r="0.7" opacity="0.8"/><circle cx="1076.5" cy="323.5" r="0.5" opacity="0.8"/><circle cx="1085.7" cy="320.9" r="0.4" opacity="0.8"/><circle cx="1090" cy="321" r="0.6" opacity="0.8"/><circle cx="1083" cy="323.8" r="0.6" opacity="0.8"/><circle cx="1074.3" cy="324.6" r="0.6" opacity="0.8"/><circle cx="1080.8" cy="328.9" r="0.4" opacity="0.8"/><circle cx="1069.6" cy="331.8" r="0.4" opacity="0.8"/><circle cx="1070.3" cy="327.1" r="0.4" opacity="0.8"/><circle cx="1081.2" cy="318.7" r="0.7" opacity="0.8"/><circle cx="1078.7" cy="327.4" r="0.7" opacity="0.8"/><circle cx="1059" cy="313" r="0.5" opacity="0.8"/><circle cx="1071.8" cy="328.3" r="0.4" opacity="0.8"/><circle cx="1087.8" cy="331.5" r="0.5" opacity="0.8"/><circle cx="1074.1" cy="321" r="0.4" opacity="0.8"/><circle cx="1078.4" cy="323.3" r="0.4" opacity="0.8"/><circle cx="1080.8" cy="331" r="0.7" opacity="0.8"/><circle cx="1092.7" cy="328.4" r="0.5" opacity="0.8"/><circle cx="1067.4" cy="331" r="0.4" opacity="0.8"/><circle cx="1071.2" cy="336.9" r="0.5" opacity="0.8"/><circle cx="1079.6" cy="323.7" r="0.7" opacity="0.8"/><circle cx="1062" cy="331.6" r="0.6" opacity="0.8"/><circle cx="1082.3" cy="325.6" r="0.4" opacity="0.8"/><circle cx="1081.4" cy="327.1" r="0.4" opacity="0.8"/><circle cx="1074.7" cy="331.4" r="0.5" opacity="0.8"/><circle cx="1094.7" cy="323" r="0.4" opacity="0.8"/><circle cx="1072.1" cy="344.8" r="0.7" opacity="0.8"/><circle cx="1075.3" cy="327.9" r="0.4" opacity="0.8"/><circle cx="1072.5" cy="335.7" r="0.7" opacity="0.8"/><circle cx="1066.3" cy="329" r="0.7" opacity="0.8"/><circle cx="1093.2" cy="322.2" r="0.6" opacity="0.8"/><circle cx="1079.3" cy="329.7" r="0.6" opacity="0.8"/><circle cx="1088.8" cy="317.6" r="0.4" opacity="0.8"/><circle cx="1085.3" cy="317.5" r="0.6" opacity="0.8"/><circle cx="1061.1" cy="315.9" r="0.5" opacity="0.8"/><circle cx="1071.3" cy="335.5" r="0.5" opacity="0.8"/><circle cx="1082.3" cy="320.9" r="0.4" opacity="0.8"/><circle cx="1077.3" cy="332.7" r="0.5" opacity="0.8"/><circle cx="1067.4" cy="319.4" r="0.4" opacity="0.8"/><circle cx="1078.9" cy="331.3" r="0.5" opacity="0.8"/><circle cx="1077.7" cy="342.4" r="0.7" opacity="0.8"/><circle cx="1078.1" cy="329.8" r="0.7" opacity="0.8"/><circle cx="1081.6" cy="321.9" r="0.5" opacity="0.8"/><circle cx="1079" cy="329.6" r="0.7" opacity="0.8"/><circle cx="1074.7" cy="328.2" r="0.6" opacity="0.8"/><circle cx="1079.1" cy="326.4" r="0.7" opacity="0.8"/><circle cx="1076.7" cy="327.9" r="0.6" opacity="0.8"/><circle cx="1080.8" cy="321.2" r="0.6" opacity="0.8"/><circle cx="1087.3" cy="320.6" r="0.7" opacity="0.8"/><circle cx="1074.6" cy="326.8" r="0.5" opacity="0.8"/><circle cx="1081.8" cy="331.7" r="0.6" opacity="0.8"/><circle cx="1073.3" cy="334.8" r="0.7" opacity="0.8"/><circle cx="1082.9" cy="311.5" r="0.5" opacity="0.8"/><circle cx="1074.6" cy="336.7" r="0.6" opacity="0.65"/><circle cx="1050.8" cy="326.7" r="0.7" opacity="0.65"/><circle cx="1046.2" cy="327.6" r="0.4" opacity="0.65"/><circle cx="1038.9" cy="337" r="0.4" opacity="0.65"/><circle cx="1050.1" cy="333.3" r="0.7" opacity="0.65"/><circle cx="1039.7" cy="328.8" r="0.6" opacity="0.65"/><circle cx="1025.5" cy="337.5" r="0.5" opacity="0.65"/><circle cx="1044.9" cy="332.7" r="0.5" opacity="0.65"/><circle cx="1053.8" cy="330.8" r="0.4" opacity="0.65"/><circle cx="1055.9" cy="333.4" r="0.7" opacity="0.65"/><circle cx="1027.7" cy="332" r="0.4" opacity="0.65"/><circle cx="1053.4" cy="324.5" r="0.4" opacity="0.65"/><circle cx="1043.9" cy="328.5" r="0.6" opacity="0.65"/><circle cx="1033.2" cy="327.6" r="0.7" opacity="0.65"/><circle cx="1052.2" cy="341.7" r="0.6" opacity="0.65"/><circle cx="1072.2" cy="327" r="0.5" opacity="0.65"/><circle cx="1055.1" cy="343.6" r="0.6" opacity="0.65"/><circle cx="1055.6" cy="333.8" r="0.4" opacity="0.65"/><circle cx="1046.5" cy="329.4" r="0.7" opacity="0.65"/><circle cx="1049.7" cy="332.2" r="0.4" opacity="0.65"/><circle cx="1057.6" cy="327.6" r="0.6" opacity="0.65"/><circle cx="1036.8" cy="327.5" r="0.4" opacity="0.65"/><circle cx="1036.5" cy="332.1" r="0.7" opacity="0.65"/><circle cx="1052.3" cy="335.8" r="0.5" opacity="0.65"/><circle cx="1029.8" cy="334.9" r="0.4" opacity="0.65"/><circle cx="1025.5" cy="333.7" r="0.4" opacity="0.65"/><circle cx="1054.4" cy="340.5" r="0.4" opacity="0.65"/><circle cx="1061.5" cy="326.1" r="0.5" opacity="0.65"/><circle cx="1049" cy="316.1" r="0.7" opacity="0.65"/><circle cx="1051.9" cy="323.9" r="0.7" opacity="0.65"/><circle cx="1052.8" cy="330.1" r="0.5" opacity="0.65"/><circle cx="1032.5" cy="332.2" r="0.5" opacity="0.65"/><circle cx="1037.8" cy="339.5" r="0.5" opacity="0.65"/><circle cx="1042.4" cy="323.6" r="0.5" opacity="0.65"/><circle cx="1040.3" cy="332.3" r="0.7" opacity="0.65"/><circle cx="1040.5" cy="332.8" r="0.6" opacity="0.65"/><circle cx="1038.2" cy="328.8" r="0.5" opacity="0.65"/><circle cx="1044.7" cy="333.9" r="0.7" opacity="0.65"/><circle cx="1048.6" cy="329.3" r="0.4" opacity="0.65"/><circle cx="1034.2" cy="323.3" r="0.5" opacity="0.65"/><circle cx="1029.1" cy="326.8" r="0.4" opacity="0.65"/><circle cx="1044.7" cy="335" r="0.6" opacity="0.65"/><circle cx="1038.6" cy="332.9" r="0.5" opacity="0.65"/><circle cx="1048.6" cy="329.8" r="0.6" opacity="0.65"/><circle cx="1040.4" cy="332.8" r="0.6" opacity="0.65"/><circle cx="1052.9" cy="337.8" r="0.7" opacity="0.65"/><circle cx="1047.9" cy="325.9" r="0.5" opacity="0.65"/><circle cx="1030.1" cy="334.7" r="0.6" opacity="0.65"/><circle cx="1048.8" cy="336.9" r="0.7" opacity="0.65"/><circle cx="1047.3" cy="338.7" r="0.5" opacity="0.65"/><circle cx="1051.1" cy="324.9" r="0.5" opacity="0.65"/><circle cx="1043.6" cy="327.1" r="0.4" opacity="0.65"/><circle cx="1054" cy="319.9" r="0.7" opacity="0.65"/><circle cx="1045.4" cy="327.3" r="0.5" opacity="0.65"/><circle cx="1034.3" cy="324.9" r="0.5" opacity="0.65"/><circle cx="1039.8" cy="329" r="0.4" opacity="0.65"/><circle cx="1041.1" cy="324.2" r="0.4" opacity="0.65"/><circle cx="1036.7" cy="330.4" r="0.6" opacity="0.65"/><circle cx="1054.8" cy="320.9" r="0.7" opacity="0.65"/><circle cx="1052.8" cy="334.3" r="0.7" opacity="0.65"/><circle cx="1067" cy="330.8" r="0.5" opacity="0.6"/><circle cx="1065.7" cy="335.9" r="0.6" opacity="0.6"/><circle cx="1069.6" cy="324.8" r="0.4" opacity="0.6"/><circle cx="1054.8" cy="336.6" r="0.4" opacity="0.6"/><circle cx="1067.7" cy="330.7" r="0.6" opacity="0.6"/><circle cx="1063.8" cy="306.2" r="0.4" opacity="0.6"/><circle cx="1061.4" cy="325.7" r="0.7" opacity="0.6"/><circle cx="1060.9" cy="322.6" r="0.5" opacity="0.6"/><circle cx="1075" cy="324.7" r="0.5" opacity="0.6"/><circle cx="1059.8" cy="318.7" r="0.6" opacity="0.6"/><circle cx="1062" cy="336.7" r="0.4" opacity="0.6"/><circle cx="1073.3" cy="324.2" r="0.5" opacity="0.6"/><circle cx="1061.3" cy="337.2" r="0.7" opacity="0.6"/><circle cx="1054.3" cy="320.2" r="0.4" opacity="0.6"/><circle cx="1060.7" cy="324.9" r="0.5" opacity="0.6"/><circle cx="1064.5" cy="323.1" r="0.7" opacity="0.6"/><circle cx="1054.7" cy="315" r="0.4" opacity="0.6"/><circle cx="1065.7" cy="327.7" r="0.5" opacity="0.6"/><circle cx="1058.5" cy="320.5" r="0.5" opacity="0.6"/><circle cx="1065.9" cy="330.3" r="0.7" opacity="0.6"/><circle cx="1066.8" cy="334.8" r="0.7" opacity="0.6"/><circle cx="1059.7" cy="311.9" r="0.4" opacity="0.6"/><circle cx="1052.6" cy="333.6" r="0.6" opacity="0.6"/><circle cx="1060" cy="327" r="0.6" opacity="0.6"/><circle cx="1059.9" cy="307" r="0.6" opacity="0.6"/><circle cx="1065.9" cy="307.8" r="0.4" opacity="0.6"/><circle cx="1060.7" cy="326" r="0.6" opacity="0.6"/><circle cx="1062" cy="330.4" r="0.4" opacity="0.6"/><circle cx="1057.9" cy="329.4" r="0.4" opacity="0.6"/><circle cx="1060.5" cy="326.8" r="0.4" opacity="0.6"/><circle cx="1024.8" cy="268.2" r="0.7" opacity="0.4"/><circle cx="1031.7" cy="248.1" r="0.4" opacity="0.4"/><circle cx="1042.7" cy="250.4" r="0.4" opacity="0.4"/><circle cx="1062" cy="263.8" r="0.6" opacity="0.4"/><circle cx="1056.5" cy="257.9" r="0.4" opacity="0.4"/><circle cx="1003.5" cy="258.9" r="0.4" opacity="0.4"/><circle cx="952.7" cy="268" r="0.6" opacity="0.4"/><circle cx="1041" cy="265.6" r="0.5" opacity="0.4"/><circle cx="1049.3" cy="267.5" r="0.6" opacity="0.4"/><circle cx="1054.6" cy="266.1" r="0.5" opacity="0.4"/><circle cx="986.6" cy="264.6" r="0.6" opacity="0.4"/><circle cx="1054" cy="258" r="0.6" opacity="0.4"/><circle cx="1020.5" cy="264.6" r="0.6" opacity="0.4"/><circle cx="1042" cy="255" r="0.5" opacity="0.4"/><circle cx="1008.2" cy="258.7" r="0.6" opacity="0.4"/><circle cx="983.3" cy="263.8" r="0.7" opacity="0.4"/><circle cx="994.6" cy="263" r="0.5" opacity="0.4"/><circle cx="1010.3" cy="265.4" r="0.7" opacity="0.4"/><circle cx="1049.6" cy="260.9" r="0.6" opacity="0.4"/><circle cx="1058.7" cy="274.6" r="0.6" opacity="0.4"/><circle cx="987.3" cy="259.6" r="0.6" opacity="0.4"/><circle cx="1035.1" cy="259.1" r="0.4" opacity="0.4"/><circle cx="1022.4" cy="258.5" r="0.4" opacity="0.4"/><circle cx="998.2" cy="258.6" r="0.4" opacity="0.4"/><circle cx="963.4" cy="260.8" r="0.6" opacity="0.4"/><circle cx="1018.7" cy="259.1" r="0.5" opacity="0.4"/><circle cx="1065" cy="261.4" r="0.5" opacity="0.4"/><circle cx="981.4" cy="266.5" r="0.5" opacity="0.4"/><circle cx="1001.2" cy="254.6" r="0.6" opacity="0.4"/><circle cx="1035.7" cy="255.5" r="0.7" opacity="0.4"/><circle cx="1015" cy="270.4" r="0.5" opacity="0.4"/><circle cx="1008" cy="263.5" r="0.7" opacity="0.4"/><circle cx="1023.9" cy="254.1" r="0.7" opacity="0.4"/><circle cx="944.5" cy="273.3" r="0.5" opacity="0.4"/><circle cx="974.3" cy="267.2" r="0.4" opacity="0.4"/><circle cx="905.1" cy="339.3" r="0.7" opacity="0.8"/><circle cx="919.5" cy="339.7" r="0.6" opacity="0.8"/><circle cx="900.4" cy="339.4" r="0.7" opacity="0.8"/><circle cx="923.3" cy="336.7" r="0.7" opacity="0.8"/><circle cx="909.5" cy="338.7" r="0.6" opacity="0.8"/><circle cx="933.7" cy="334" r="0.7" opacity="0.8"/><circle cx="915.7" cy="336.4" r="0.6" opacity="0.8"/><circle cx="903.5" cy="342.2" r="0.5" opacity="0.8"/><circle cx="941.3" cy="336.5" r="0.7" opacity="0.8"/><circle cx="973.4" cy="332.3" r="0.4" opacity="0.8"/><circle cx="955.8" cy="338.1" r="0.7" opacity="0.8"/><circle cx="915.5" cy="340.5" r="0.6" opacity="0.8"/><circle cx="838.2" cy="334.4" r="0.7" opacity="0.8"/><circle cx="906.9" cy="338.8" r="0.6" opacity="0.8"/><circle cx="921.5" cy="337.1" r="0.4" opacity="0.8"/><circle cx="913.7" cy="336.8" r="0.6" opacity="0.8"/><circle cx="888.8" cy="337" r="0.5" opacity="0.8"/><circle cx="972" cy="331.7" r="0.7" opacity="0.8"/><circle cx="890.2" cy="340" r="0.6" opacity="0.8"/><circle cx="910.1" cy="332.4" r="0.4" opacity="0.8"/><circle cx="935.5" cy="339.3" r="0.4" opacity="0.8"/><circle cx="938.8" cy="333.8" r="0.4" opacity="0.8"/><circle cx="913.4" cy="334.9" r="0.6" opacity="0.8"/><circle cx="957.6" cy="328.8" r="0.7" opacity="0.8"/><circle cx="904.3" cy="334.3" r="0.5" opacity="0.8"/><circle cx="908.9" cy="336.9" r="0.5" opacity="0.8"/><circle cx="955" cy="338.4" r="0.4" opacity="0.8"/><circle cx="876.9" cy="344.6" r="0.4" opacity="0.8"/><circle cx="923.7" cy="336.6" r="0.4" opacity="0.8"/><circle cx="911.6" cy="341.3" r="0.4" opacity="0.8"/><circle cx="946.8" cy="335.5" r="0.4" opacity="0.8"/><circle cx="893.2" cy="334.7" r="0.5" opacity="0.8"/><circle cx="944.4" cy="341.6" r="0.6" opacity="0.8"/><circle cx="961.7" cy="332.4" r="0.5" opacity="0.8"/><circle cx="902" cy="335.6" r="0.4" opacity="0.8"/><circle cx="943.5" cy="339.9" r="0.4" opacity="0.8"/><circle cx="934.8" cy="337.2" r="0.7" opacity="0.8"/><circle cx="940.3" cy="333.3" r="0.4" opacity="0.8"/><circle cx="902.7" cy="333.3" r="0.6" opacity="0.8"/><circle cx="936.4" cy="338.7" r="0.6" opacity="0.8"/><circle cx="934.5" cy="339.1" r="0.4" opacity="0.8"/><circle cx="963.5" cy="331.4" r="0.4" opacity="0.8"/><circle cx="909.1" cy="339.7" r="0.7" opacity="0.8"/><circle cx="942.5" cy="337.3" r="0.7" opacity="0.8"/><circle cx="870" cy="333.2" r="0.7" opacity="0.8"/><circle cx="942.4" cy="337.7" r="0.5" opacity="0.8"/><circle cx="980.6" cy="338.9" r="0.5" opacity="0.8"/><circle cx="903.8" cy="342.9" r="0.7" opacity="0.8"/><circle cx="913.8" cy="340.8" r="0.7" opacity="0.8"/><circle cx="934.3" cy="336.9" r="0.7" opacity="0.8"/><circle cx="885.2" cy="313.3" r="0.7" opacity="0.7"/><circle cx="884.1" cy="325.6" r="0.7" opacity="0.7"/><circle cx="905.9" cy="319.1" r="0.4" opacity="0.7"/><circle cx="893.5" cy="321.3" r="0.5" opacity="0.7"/><circle cx="906.5" cy="318.4" r="0.7" opacity="0.7"/><circle cx="886.3" cy="317.3" r="0.7" opacity="0.7"/><circle cx="884" cy="323" r="0.4" opacity="0.7"/><circle cx="874.4" cy="322.1" r="0.5" opacity="0.7"/><circle cx="883.2" cy="320.9" r="0.6" opacity="0.7"/><circle cx="890.2" cy="319.1" r="0.4" opacity="0.7"/><circle cx="887.5" cy="320" r="0.5" opacity="0.7"/><circle cx="895.3" cy="319.7" r="0.5" opacity="0.7"/><circle cx="881.6" cy="316.5" r="0.5" opacity="0.7"/><circle cx="894" cy="321.1" r="0.7" opacity="0.7"/><circle cx="875.6" cy="325" r="0.5" opacity="0.7"/><circle cx="887.3" cy="322.3" r="0.5" opacity="0.7"/><circle cx="891.3" cy="322.3" r="0.5" opacity="0.7"/><circle cx="916.3" cy="313" r="0.7" opacity="0.7"/><circle cx="883.5" cy="316" r="0.5" opacity="0.7"/><circle cx="882.1" cy="320.7" r="0.5" opacity="0.7"/><circle cx="892.8" cy="316.5" r="0.4" opacity="0.7"/><circle cx="883.9" cy="317.2" r="0.7" opacity="0.7"/><circle cx="902.5" cy="319.1" r="0.5" opacity="0.7"/><circle cx="887" cy="321.7" r="0.4" opacity="0.7"/><circle cx="885.3" cy="311.5" r="0.5" opacity="0.7"/></g></g>
<g>
<line x1="938" y1="312.5" x2="996" y2="295.5" stroke="#e8121a" stroke-width="4.2" stroke-linecap="round"/>
<polygon points="1011.3,291.5 991.5,286.3 995.9,306.5" fill="#e8121a"/>
<line x1="937.5" y1="312" x2="907" y2="295" stroke="#22c04a" stroke-width="4.4" stroke-linecap="round"/>
<polygon points="892.8,287.2 915,288.2 902.7,303.7" fill="#22c04a"/>
<line x1="937.6" y1="311" x2="937.6" y2="281" stroke="#f7c81e" stroke-width="4" />
<polygon points="937.9,263.6 928,282.6 948.2,282.6" fill="#f7c81e"/>
</g>
<!-- point cloud panels -->
<defs><g id="pc" fill="none" stroke="#222" stroke-linecap="butt">
<clipPath id="pcc"><path d="M-10.7,-28.5H17V-13H29.5V13.5H0V-6H-15V-21.5H-10.7Z"/></clipPath>
<path d="M-14.6,9.1A17.2,17.2 0 1 1 13.6,10.6M-15.7,9.8A18.5,18.5 0 1 1 14.6,11.4M-16.8,10.5A19.8,19.8 0 1 1 15.6,12.2M-17.9,11.2A21.1,21.1 0 1 1 16.6,13M-19,11.9A22.4,22.4 0 1 1 17.7,13.8M-20.1,12.6A23.7,23.7 0 1 1 18.7,14.6M-21.2,13.2A25,25 0 1 1 19.7,15.4M-22.3,13.9A26.3,26.3 0 1 1 20.7,16.2M-23.4,14.6A27.6,27.6 0 1 1 21.7,17" stroke="#151515" stroke-width="1" opacity="0.9" clip-path="url(#pcc)"/>
<path d="M-14.4,-8.3A16.6,16.6 0 0 1 12.7,10.7" stroke="#111" stroke-width="0.9"/>
<path d="M-10.7,-28.3H16.5M-10.7,-28.3V-21.5H-14.5V-8H-9.5" stroke="#111" stroke-width="1.2"/>
<path d="M-51.5,-27.6H-36M-30,-27.6H-12M16,-27.6H99" stroke-width="0.7" opacity="0.6" stroke-dasharray="9 1.5 4 1"/>
<path d="M21,-27.2H66" stroke="#111" stroke-width="1.1" opacity="0.9"/>
<path d="M-51,-19.5H-14M28,-19.5H91" stroke-width="0.7" opacity="0.45"/>
<path d="M-51,20.4H103" stroke-width="0.8" opacity="0.7"/>
<path d="M-12,21.2H9M21,20.8H40" stroke="#111" stroke-width="1.3" stroke-dasharray="3 1.6"/>
<path d="M-33,-7.4V9.5M-31.4,-7.8V9.2M-29.9,-7.3V9M-28.3,-7.4V7.7M-26.8,-7.4V8.2M-25.2,-7.7V9.7M-23.7,-7.4V8.7M-22.1,-6.2V9.8M-20.6,-6.2V10.1M-19,-7.7V8.3" stroke-width="0.8" opacity="0.8"/>
<path d="M-50,-6.9l-1,6l1,6M-47.7,-5.6l-1,6l1,6M-45.4,-5.7l-1,6l1,6M-43.1,-6.3l-1,6l1,6M-40.8,-6.2l-1,6l1,6M-38.5,-5.7l-1,6l1,6M-36.2,-5.6l-1,6l1,6" stroke-width="0.6" opacity="0.5"/>
<path d="M21.5,-9.4V11.7M23,-9.1V11.3M24.5,-9.2V10.2M26,-7.6V11.5M27.5,-7.8V10.1M29,-9V10.3M30.5,-8.5V10.6M32,-7.9V10.1M33.5,-7.9V11.3M35,-8V11.7M36.5,-7V11.4M38,-7.5V10.9M39.5,-6.4V10.7M41,-7.6V11.7M42.5,-5.9V10.6" stroke-width="0.8" opacity="0.8"/>
<path d="M44,-7.9V10.7M45.9,-6.8V9.1M47.8,-7.5V9.2M49.7,-6.4V9.4M51.6,-6.2V10.5M53.5,-7.8V10.4M55.4,-7.2V10.5M57.3,-6.3V9.6M59.2,-7.8V10.9M61.1,-7.2V10.9M63,-6.6V10.5M64.9,-6.3V10.3M66.8,-7.1V9.1M68.7,-6.6V9.9" stroke-width="0.7" opacity="0.55"/>
<path d="M72,-8l-1.5,4l1.5,4l-1.5,4l1.5,4M75.3,-7.1l-1.5,4l1.5,4l-1.5,4l1.5,4M78.6,-8.7l-1.5,4l1.5,4l-1.5,4l1.5,4M81.9,-7.5l-1.5,4l1.5,4l-1.5,4l1.5,4M85.2,-8.9l-1.5,4l1.5,4l-1.5,4l1.5,4M88.5,-7.6l-1.5,4l1.5,4l-1.5,4l1.5,4M91.8,-7.4l-1.5,4l1.5,4l-1.5,4l1.5,4M95.1,-8.5l-1.5,4l1.5,4l-1.5,4l1.5,4M98.4,-7.9l-1.5,4l1.5,4l-1.5,4l1.5,4" stroke-width="0.55" opacity="0.45"/>
<path d="M-15,10.7H-11M-9,10.9H-4M-2.5,10.6H2M3,11H6" stroke="#111" stroke-width="2.2" opacity="0.85"/>
<path d="M8,14.5l3,-3l1.5,-3.5M6,17l4,-1.5" stroke="#111" stroke-width="1.5"/>
<path d="M-27.2,19.5V29" stroke="#111" stroke-width="1.5"/>
<path d="M-40,20.4V27M66,20V24.5M52.5,20V23" stroke-width="0.8" opacity="0.7"/>
<path d="M16.5,-62V-29" stroke-width="0.7" opacity="0.55"/>
<path d="M-36,-52.5V-31" stroke-width="0.7" opacity="0.4"/>
<path d="M-36,-31V-22" stroke-width="1" opacity="0.5"/>
<path d="M30,-8V-2M31,9.5V14" stroke="#111" stroke-width="1.1"/>
<path d="M61,-12V-6" stroke="#111" stroke-width="1.1" opacity="0.8"/>
<g stroke="none" fill="#111"><circle cx="27.8" cy="-23.5" r="0.65" opacity="0.9"/><circle cx="24.7" cy="-17.9" r="0.4" opacity="0.9"/><circle cx="23.7" cy="-21.4" r="0.4" opacity="0.9"/><circle cx="24.3" cy="-23.8" r="0.65" opacity="0.9"/><circle cx="24.2" cy="-25.9" r="0.4" opacity="0.9"/><circle cx="24.9" cy="-23.2" r="0.65" opacity="0.9"/><circle cx="20.6" cy="-21.4" r="0.5" opacity="0.9"/><circle cx="24.7" cy="-24" r="0.65" opacity="0.9"/><circle cx="26.6" cy="-21" r="0.5" opacity="0.9"/><circle cx="24.3" cy="-23.7" r="0.5" opacity="0.9"/><circle cx="25.1" cy="-24.2" r="0.65" opacity="0.9"/><circle cx="28.1" cy="-18.4" r="0.5" opacity="0.9"/><circle cx="25.5" cy="-23.9" r="0.5" opacity="0.9"/><circle cx="27.3" cy="-22.8" r="0.4" opacity="0.9"/><circle cx="26.5" cy="-22.4" r="0.4" opacity="0.9"/><circle cx="26.3" cy="-21.9" r="0.4" opacity="0.9"/><circle cx="26.1" cy="-21.2" r="0.65" opacity="0.9"/><circle cx="24.2" cy="-22.1" r="0.4" opacity="0.9"/><circle cx="27.2" cy="-22.4" r="0.5" opacity="0.9"/><circle cx="27.7" cy="-21.4" r="0.65" opacity="0.9"/><circle cx="24.1" cy="-23.4" r="0.5" opacity="0.9"/><circle cx="27.2" cy="-23.6" r="0.65" opacity="0.9"/><circle cx="24.2" cy="-21.3" r="0.4" opacity="0.9"/><circle cx="23.3" cy="-25.2" r="0.65" opacity="0.9"/><circle cx="24.1" cy="-24.2" r="0.4" opacity="0.9"/><circle cx="27.9" cy="-21.4" r="0.4" opacity="0.9"/><circle cx="41.7" cy="-26" r="0.5" opacity="0.8"/><circle cx="36.7" cy="-20" r="0.65" opacity="0.8"/><circle cx="44.2" cy="-26" r="0.4" opacity="0.8"/><circle cx="44.2" cy="-21.5" r="0.5" opacity="0.8"/><circle cx="40.9" cy="-24.4" r="0.4" opacity="0.8"/><circle cx="39.6" cy="-24.2" r="0.4" opacity="0.8"/><circle cx="38.9" cy="-21.5" r="0.5" opacity="0.8"/><circle cx="42" cy="-24" r="0.4" opacity="0.8"/><circle cx="44.1" cy="-22.5" r="0.65" opacity="0.8"/><circle cx="50.4" cy="-26.2" r="0.5" opacity="0.8"/><circle cx="46" cy="-25.2" r="0.5" opacity="0.8"/><circle cx="37.4" cy="-21.8" r="0.5" opacity="0.8"/><circle cx="38.2" cy="-24.3" r="0.4" opacity="0.8"/><circle cx="40.4" cy="-23.9" r="0.5" opacity="0.8"/><circle cx="39.3" cy="-24.2" r="0.4" opacity="0.8"/><circle cx="42.7" cy="-24.5" r="0.4" opacity="0.8"/><circle cx="41" cy="-23.1" r="0.65" opacity="0.8"/><circle cx="43.7" cy="-25.2" r="0.5" opacity="0.8"/><circle cx="24.2" cy="-23.7" r="0.4" opacity="1"/><circle cx="23" cy="-24.1" r="0.5" opacity="1"/><circle cx="24.1" cy="-23.9" r="0.4" opacity="1"/><circle cx="24.5" cy="-24.3" r="0.5" opacity="1"/><circle cx="25.8" cy="-24" r="0.65" opacity="1"/><circle cx="23.6" cy="-23.5" r="0.4" opacity="1"/><circle cx="22.8" cy="-24.3" r="0.5" opacity="1"/><circle cx="26.2" cy="-24.4" r="0.4" opacity="1"/><circle cx="-16.9" cy="-48" r="0.65" opacity="0.6"/><circle cx="-20.6" cy="-44.8" r="0.65" opacity="0.6"/><circle cx="-29.4" cy="-50.1" r="0.5" opacity="0.6"/><circle cx="-30.8" cy="-48" r="0.5" opacity="0.6"/><circle cx="-32.7" cy="-46.6" r="0.5" opacity="0.6"/><circle cx="-23.7" cy="-49.3" r="0.65" opacity="0.6"/><circle cx="-24.5" cy="-46.7" r="0.65" opacity="0.6"/><circle cx="-27.4" cy="-50.8" r="0.4" opacity="0.6"/><circle cx="-29.1" cy="-49" r="0.65" opacity="0.6"/><circle cx="-23.5" cy="-47.8" r="0.4" opacity="0.6"/><circle cx="-30.7" cy="-48" r="0.4" opacity="0.6"/><circle cx="-25.5" cy="-40.5" r="0.4" opacity="0.6"/><circle cx="-28.9" cy="-47.4" r="0.5" opacity="0.6"/><circle cx="-28.5" cy="-48.3" r="0.65" opacity="0.6"/><circle cx="-18" cy="-44.7" r="0.65" opacity="0.6"/><circle cx="-20.4" cy="-46.4" r="0.65" opacity="0.6"/><circle cx="-16.2" cy="-45.4" r="0.65" opacity="0.6"/><circle cx="-21.6" cy="-48.6" r="0.65" opacity="0.6"/><circle cx="-16.1" cy="-46" r="0.65" opacity="0.6"/><circle cx="-21" cy="-48" r="0.4" opacity="0.6"/><circle cx="-35.3" cy="-24.7" r="0.65" opacity="0.7"/><circle cx="-25.5" cy="-20.3" r="0.5" opacity="0.7"/><circle cx="-37.6" cy="-23.1" r="0.4" opacity="0.7"/><circle cx="-34.8" cy="-23" r="0.4" opacity="0.7"/><circle cx="-32.9" cy="-20.5" r="0.5" opacity="0.7"/><circle cx="-29.8" cy="-20.6" r="0.4" opacity="0.7"/><circle cx="-32.2" cy="-25.6" r="0.5" opacity="0.7"/><circle cx="-31.5" cy="-19.8" r="0.5" opacity="0.7"/><circle cx="-17.3" cy="-9.3" r="0.4" opacity="0.7"/><circle cx="-22.1" cy="-10.3" r="0.5" opacity="0.7"/><circle cx="-16.4" cy="-6.8" r="0.5" opacity="0.7"/><circle cx="-16.9" cy="-11.3" r="0.4" opacity="0.7"/><circle cx="-17.5" cy="-9.7" r="0.5" opacity="0.7"/><circle cx="-20.4" cy="-9.2" r="0.5" opacity="0.7"/><circle cx="9.4" cy="-42.3" r="0.65" opacity="0.4"/><circle cx="3.2" cy="-34" r="0.5" opacity="0.4"/><circle cx="11.9" cy="-43.7" r="0.65" opacity="0.4"/><circle cx="10.5" cy="-32.5" r="0.65" opacity="0.4"/><circle cx="-11.6" cy="-35" r="0.65" opacity="0.4"/><circle cx="-9.7" cy="-34.8" r="0.5" opacity="0.4"/><circle cx="26.6" cy="-30.8" r="0.4" opacity="0.4"/><circle cx="26.3" cy="-25" r="0.65" opacity="0.4"/><circle cx="-1.1" cy="-53.3" r="0.65" opacity="0.4"/><circle cx="20.6" cy="-47" r="0.65" opacity="0.4"/><circle cx="20.8" cy="26.1" r="0.5" opacity="0.5"/><circle cx="32.8" cy="30.4" r="0.4" opacity="0.5"/><circle cx="3.9" cy="30.5" r="0.4" opacity="0.5"/><circle cx="21.2" cy="28.7" r="0.4" opacity="0.5"/><circle cx="5.4" cy="25.1" r="0.65" opacity="0.5"/><circle cx="7.6" cy="33.6" r="0.4" opacity="0.5"/><circle cx="14.6" cy="24.9" r="0.4" opacity="0.5"/><circle cx="33.4" cy="25.1" r="0.4" opacity="0.5"/><circle cx="-31.6" cy="-6.1" r="0.5" opacity="0.8"/><circle cx="-27.9" cy="-9.6" r="0.4" opacity="0.8"/><circle cx="-29.1" cy="-4.4" r="0.65" opacity="0.8"/><circle cx="-32.6" cy="-7.5" r="0.5" opacity="0.8"/><circle cx="-28.4" cy="-8.7" r="0.5" opacity="0.8"/><circle cx="-31.6" cy="-8.9" r="0.4" opacity="0.8"/><circle cx="-30" cy="-3.9" r="0.65" opacity="0.8"/><circle cx="-28.9" cy="-7.7" r="0.65" opacity="0.8"/><circle cx="-30.7" cy="-58.9" r="0.4" opacity="0.35"/><circle cx="-47.4" cy="-62" r="0.65" opacity="0.35"/><circle cx="-52.2" cy="-64.4" r="0.4" opacity="0.35"/><circle cx="-34.8" cy="-62.1" r="0.65" opacity="0.35"/><circle cx="-33.6" cy="-63" r="0.4" opacity="0.35"/><circle cx="-35.4" cy="-67.6" r="0.65" opacity="0.35"/><circle cx="-20.7" cy="-57.9" r="0.4" opacity="0.35"/><circle cx="-18.2" cy="-68.8" r="0.65" opacity="0.35"/><circle cx="-10.3" cy="-57.5" r="0.5" opacity="0.35"/><circle cx="-38.9" cy="-66.8" r="0.65" opacity="0.35"/><circle cx="0.6" cy="-63.9" r="0.65" opacity="0.35"/><circle cx="-2.9" cy="-67.6" r="0.5" opacity="0.35"/><circle cx="-9.8" cy="-71.7" r="0.5" opacity="0.35"/><circle cx="-21.2" cy="-68.1" r="0.4" opacity="0.35"/><circle cx="5.7" cy="-68" r="0.4" opacity="0.35"/><circle cx="20.2" cy="-67.8" r="0.5" opacity="0.35"/><circle cx="99.2" cy="10.5" r="0.5" opacity="0.7"/><circle cx="101.2" cy="8.8" r="0.4" opacity="0.7"/><circle cx="99.7" cy="10.9" r="0.65" opacity="0.7"/><circle cx="98.7" cy="8.7" r="0.5" opacity="0.7"/><circle cx="100.6" cy="10.1" r="0.4" opacity="0.7"/><circle cx="72.7" cy="-20.9" r="0.5" opacity="0.35"/><circle cx="89.4" cy="-20.1" r="0.65" opacity="0.35"/><circle cx="61.9" cy="-18.2" r="0.4" opacity="0.35"/><circle cx="84.6" cy="-21.5" r="0.4" opacity="0.35"/><circle cx="78.8" cy="-18.5" r="0.4" opacity="0.35"/><circle cx="80.7" cy="-22.8" r="0.4" opacity="0.35"/><circle cx="78" cy="-21.3" r="0.5" opacity="0.35"/><circle cx="60" cy="-18.6" r="0.5" opacity="0.35"/></g>
</g></defs>
<use href="#pc" x="356.4" y="549.8"/>
<use href="#pc" x="543.6" y="550.4" transform="translate(543.6 550.4) scale(0.97) translate(-543.6 -550.4)"/>
<use href="#pc" x="741.3" y="552.2"/>
<g fill="none" stroke="#111">
<defs><radialGradient id="sm"><stop offset="0" stop-color="#222" stop-opacity="0.75"/><stop offset="1" stop-color="#222" stop-opacity="0"/></radialGradient><linearGradient id="gsh" x1="0" y1="0" x2="0" y2="1"><stop offset="0" stop-color="#333" stop-opacity="0"/><stop offset="1" stop-color="#222" stop-opacity="0.75"/></linearGradient></defs>
<ellipse cx="876" cy="546" rx="9.5" ry="8.5" fill="url(#sm)" stroke="none"/>
<ellipse cx="1005.5" cy="538.3" rx="8" ry="4" fill="url(#sm)" stroke="none"/>
<rect x="921" y="554.5" width="46" height="7" fill="url(#gsh)" stroke="none"/>
<path d="M862.8,560.3L885,561.6L919.5,563.2" stroke-width="1.6"/>
<path d="M920,562H967.5" stroke-width="2.2"/>
<path d="M973.7,563.6L985,563L999.5,561.6" stroke-width="0.9" opacity="0.8"/>
<path d="M1000,536.5V561.8" stroke-width="1.4" opacity="0.85"/>
<path d="M863.8,532V554" stroke-width="0.6" opacity="0.4"/>
<path d="M921.3,551.5V562M966.8,549.5V562" stroke-width="1.6"/>
<path d="M907,548.5H921M907,550.2H921M907,551.9H921M907,553.6H921M907,555.3H921M907,557H921" stroke-width="1.1" opacity="0.85"/>
<path d="M906.5,556.5V549.5Q907,547.6 910,547.6H918" stroke-width="0.8" opacity="0.7"/>
<path d="M968,546H981.5M968,547.8H981.5M968,549.6H981.5M968,551.4H981.5M968,553.2H981.5M968,555H981.5M968,556.8H981.5M968,558.6H981.5" stroke-width="1.1" opacity="0.8"/>
<path d="M966.5,549Q967,543.3 972,543.2H979Q982.3,543.5 982.6,548V559" stroke-width="0.8" opacity="0.75"/>
<path d="M885.6,546.5Q888.8,551 886.2,557" stroke="#b3261f" stroke-width="0.9"/>
</g>
<g stroke="#bd2d28" stroke-width="1" fill="none"><path d="M321.5,495V601M338.5,495V601M356.5,495V601M373.5,495V601M391.5,495V601M409.5,495V601M426.5,495V601M321,495.5H427M321,512.5H427M321,530.5H427M321,547.5H427M321,565.5H427M321,582.5H427M321,600.5H427"/></g>
<g stroke="#bd2d28" stroke-width="1" fill="none"><path d="M509.5,492V594M526.5,492V594M542.5,492V594M559.5,492V594M576.5,492V594M593.5,492V594M610.5,492V594M509,492.5H611M509,509.5H611M509,526.5H611M509,543.5H611M509,560.5H611M509,577.5H611M509,593.5H611"/></g>
<g stroke="#bd2d28" stroke-width="1" fill="none"><path d="M704.5,494V597M721.5,494V597M737.5,494V597M754.5,494V597M771.5,494V597M788.5,494V597M805.5,494V597M704,494.5H806M704,511.5H806M704,528.5H806M704,545.5H806M704,562.5H806M704,579.5H806M704,596.5H806"/></g>
<g stroke="#bd2d28" stroke-width="1" fill="none"><path d="M885.5,478V581M902.5,478V581M919.5,478V581M936.5,478V581M953.5,478V581M970.5,478V581M986.5,478V581M885,478.5H987M885,512.5H987M885,546.5H987M885,580.5H987"/></g>
<!-- logo -->
<g id="logo">
<polygon points="877.4,48.8 889.6,48.8 894.7,64.2 899.8,48.8 911.9,48.8 899.9,95.5 889.9,95.5" fill="#a6da1e"/>
<polygon points="889.9,25.4 899.9,25.4 911.9,71.3 900.2,71.3 894.7,54.4 889.4,71.3 877.4,71.3" fill="#40bee8"/>
<polygon points="940.9,25.4 940.9,39.1 916.7,60.2 940.9,80.4 940.9,95.5 911.6,68.7 911.6,48.8" fill="#db4a9e"/>
</g>
<!-- check + bullets -->
<path d="M188.1,138.9 L191.6,137.1 Q193.4,138.6 194.7,142.1 Q200.6,132.4 209.9,126.4 L210.4,128 Q202.3,135.8 195.8,145.6 L193.4,147.1 Q191.3,141.8 188.1,138.9 Z" fill="#000"/>
<circle cx="237" cy="366.8" r="2.9" fill="#000"/>
<circle cx="284.6" cy="395.5" r="2.7" fill="#000"/>
<circle cx="237" cy="423.6" r="2.9" fill="#000"/>
<circle cx="284.6" cy="452.5" r="2.7" fill="#000"/>
</svg>
<div class="ln" style="top:53.00px;font-size:41.5px">
<span class="t" style="left:234.68px;transform:scaleX(1.0054)">Preliminary </span>
<span class="t" style="left:459.87px;transform:scaleX(0.9767)">Research</span>
</div>
<div class="ln" style="top:55.20px;font-size:26px">
<span class="t" style="left:632.56px;transform:scaleX(1.3680)">[2]</span>
</div>
<div class="ln" style="top:121.90px;font-size:34px">
<span class="t" style="left:211.60px;transform:scaleX(1.0345)">Verification </span>
<span class="t" style="left:395.22px;transform:scaleX(1.0786)">of </span>
<span class="t" style="left:438.00px;transform:scaleX(1.0304)">the </span>
<span class="t" style="left:498.06px;transform:scaleX(0.9398)">cause </span>
<span class="t" style="left:594.91px;transform:scaleX(1.0893)">of </span>
<span class="t" style="left:636.87px;transform:scaleX(1.0419)">Momentary </span>
<span class="t" style="left:824.90px;transform:scaleX(1.0019)">missed </span>
<span class="t" style="left:945.15px;transform:scaleX(1.0452)">detection</span>
</div>
<div class="ln" style="top:163.50px;font-size:34px">
<span class="t" style="left:256.85px;transform:scaleX(0.9746)">Checked </span>
<span class="t" style="left:402.00px;transform:scaleX(1.0326)">the </span>
<span class="t" style="left:462.02px;transform:scaleX(0.9843)">changes </span>
<span class="t" style="left:599.78px;transform:scaleX(1.1087)">in </span>
<span class="t" style="left:640.00px;transform:scaleX(1.0435)">the </span>
<span class="t" style="left:701.45px;transform:scaleX(1.0467)">detection </span>
<span class="t" style="left:856.01px;transform:scaleX(0.9938)">score </span>
<span class="t" style="left:950.00px;transform:scaleX(1.0256)">for </span>
<span class="t" style="left:1004.50px;transform:scaleX(1.0500)">the</span>
</div>
<div class="ln" style="top:198.00px;font-size:34px">
<span class="t" style="left:259.50px;transform:scaleX(1.0632)">target </span>
<span class="t" style="left:363.47px;transform:scaleX(1.0333)">object </span>
<span class="t" style="left:470.00px;transform:scaleX(1.0506)">when </span>
<span class="t" style="left:566.00px;transform:scaleX(1.0543)">the </span>
<span class="t" style="left:627.48px;transform:scaleX(1.0107)">reference </span>
<span class="t" style="left:784.93px;transform:scaleX(1.0341)">points </span>
<span class="t" style="left:891.00px;transform:scaleX(1.0769)">for</span>
</div>
<div class="ln" style="top:232.30px;font-size:34px">
<span class="t" style="left:257.76px;transform:scaleX(1.0448)">segmentation </span>
<span class="t" style="left:481.79px;transform:scaleX(1.0094)">changed</span>
</div>
<div class="ln" style="top:170.50px;font-size:26px">
<span class="t" style="left:233.86px;transform:scaleX(1.1429)">-</span>
</div>
<div class="ln" style="top:353.80px;font-size:23.8px">
<span class="t" style="left:262.19px;transform:scaleX(1.1069)">Segmentation </span>
<span class="t" style="left:433.96px;transform:scaleX(1.0366)">size </span>
<span class="t" style="left:487.00px;transform:scaleX(1.0000)">in </span>
<span class="t" style="left:516.30px;transform:scaleX(1.1156)">the </span>
<span class="t" style="left:561.40px;transform:scaleX(1.0969)">planar </span>
<span class="t" style="left:642.69px;transform:scaleX(1.1080)">direction </span>
<span class="t" style="left:752.57px;transform:scaleX(1.2346)">(x-/z- </span>
<span class="t" style="left:826.92px;transform:scaleX(1.0833)">axis) </span>
<span class="t" style="left:890.08px;transform:scaleX(1.2211)">of </span>
<span class="t" style="left:921.88px;transform:scaleX(1.1196)">20cm</span>
</div>
<div class="ln" style="top:382.50px;font-size:23.8px">
<span class="t" style="left:310.26px;transform:scaleX(1.1190)">1cm </span>
<span class="t" style="left:368.89px;transform:scaleX(1.1069)">intervals </span>
<span class="t" style="left:477.50px;transform:scaleX(1.1587)">from </span>
<span class="t" style="left:540.20px;transform:scaleX(1.0970)">-20 </span>
<span class="t" style="left:588.80px;transform:scaleX(1.1158)">to </span>
<span class="t" style="left:620.12px;transform:scaleX(1.1846)">+20 </span>
<span class="t" style="left:675.86px;transform:scaleX(1.1433)">cm </span>
<span class="t" style="left:720.22px;transform:scaleX(1.0839)">along </span>
<span class="t" style="left:791.94px;transform:scaleX(1.0612)">each </span>
<span class="t" style="left:855.18px;transform:scaleX(1.1159)">direction</span>
</div>
<div class="ln" style="top:410.80px;font-size:23.8px">
<span class="t" style="left:262.19px;transform:scaleX(1.1069)">Segmentation </span>
<span class="t" style="left:433.96px;transform:scaleX(1.0366)">size </span>
<span class="t" style="left:487.00px;transform:scaleX(1.0000)">in </span>
<span class="t" style="left:516.30px;transform:scaleX(1.1156)">the </span>
<span class="t" style="left:561.40px;transform:scaleX(1.1016)">height </span>
<span class="t" style="left:642.69px;transform:scaleX(1.1080)">direction </span>
<span class="t" style="left:752.60px;transform:scaleX(1.2000)">(y- </span>
<span class="t" style="left:793.41px;transform:scaleX(1.0938)">axis) </span>
<span class="t" style="left:856.29px;transform:scaleX(1.2105)">of </span>
<span class="t" style="left:889.50px;transform:scaleX(1.1053)">40cm</span>
</div>
<div class="ln" style="top:439.50px;font-size:23.8px">
<span class="t" style="left:310.90px;transform:scaleX(1.1047)">2cm </span>
<span class="t" style="left:368.89px;transform:scaleX(1.1069)">intervals </span>
<span class="t" style="left:477.50px;transform:scaleX(1.1587)">from </span>
<span class="t" style="left:540.20px;transform:scaleX(1.0970)">-40 </span>
<span class="t" style="left:588.80px;transform:scaleX(1.1158)">to </span>
<span class="t" style="left:620.12px;transform:scaleX(1.1846)">+40 </span>
<span class="t" style="left:675.86px;transform:scaleX(1.1433)">cm </span>
<span class="t" style="left:720.22px;transform:scaleX(1.0839)">along </span>
<span class="t" style="left:791.94px;transform:scaleX(1.0612)">each </span>
<span class="t" style="left:855.18px;transform:scaleX(1.1159)">direction</span>
</div>
<div class="ln" style="top:632.30px;font-size:20.5px;-webkit-text-stroke:0">
<span class="t" style="left:354.30px;transform:scaleX(0.9943)">x-axis</span>
</div>
<div class="ln" style="top:632.30px;font-size:20.5px;-webkit-text-stroke:0">
<span class="t" style="left:536.00px;transform:scaleX(0.9962)">z-axis</span>
</div>
<div class="ln" style="top:632.30px;font-size:20.5px;-webkit-text-stroke:0">
<span class="t" style="left:720.00px;transform:scaleX(1.0280)">x-/z- axis</span>
</div>
<div class="ln" style="top:634.30px;font-size:20.5px;-webkit-text-stroke:0">
<span class="t" style="left:910.00px;transform:scaleX(1.0151)">y-axis</span>
</div>
<div class="ln" style="top:662.50px;font-size:12.5px;-webkit-text-stroke:0">
<span class="t" style="left:235.23px;transform:scaleX(1.0662)">[2]Nakamura Ryota and Enokida Shuichi. Robust 3d object detection method to various positions by utilizing cnn based on voxelnet.</span>
</div>
<div class="ln" style="top:677.00px;font-size:12.5px;-webkit-text-stroke:0">
<span class="t" style="left:236.00px;transform:scaleX(1.0547)">Vision Engineering Workshop, 2020.</span>
</div>
<div class="ln" style="top:679.50px;font-size:16.7px;color:#8a8a8a;-webkit-text-stroke:0">
<span class="t" style="left:1034.00px;transform:scaleX(1.0000)">7</span>
</div>
<div class="ln" style="top:258.40px;font-size:25px;color:#f7c81e">
<span class="t" style="left:946.28px;transform:scaleX(1.0200)">Y</span>
</div>
<div class="ln" style="top:277.60px;font-size:25px;color:#e8121a">
<span class="t" style="left:973.33px;transform:scaleX(0.9733)">X</span>
</div>
<div class="ln" style="top:310.80px;font-size:25px;color:#22c04a">
<span class="t" style="left:909.21px;transform:scaleX(0.9857)">Z</span>
</div>
<div class="ln" style="top:35.60px;font-size:30.5px;color:#000;font-weight:700;letter-spacing:3px">
<span class="t" style="left:950.29px;transform:scaleX(1.0067)">Kyutech</span>
</div>
<div class="ln" style="top:73.10px;font-size:6.5px;color:#222;font-weight:700;letter-spacing:0.5px">
<span class="t" style="left:952.30px;transform:scaleX(1.2225)">Kyushu Institute of Technology</span>
</div>
</body></html>
